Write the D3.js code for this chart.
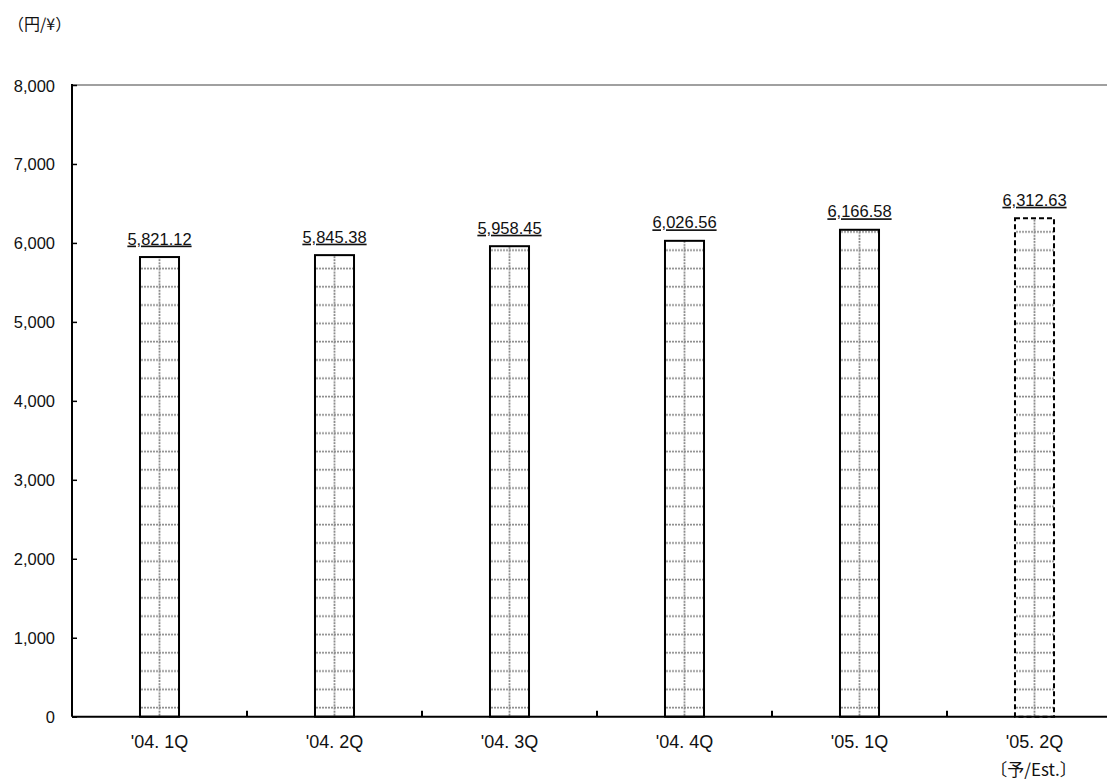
<!DOCTYPE html>
<html>
<head>
<meta charset="utf-8">
<script src="https://cdn.jsdelivr.net/npm/d3@7/dist/d3.min.js"></script>
<style>
  body { margin: 0; background: #fff; }
  text { font-family: "Liberation Sans", "Noto Sans CJK JP", sans-serif; fill: #111; }
  .jp { font-family: "Noto Sans CJK JP", sans-serif; }
</style>
</head>
<body>
<div id="chart"></div>
<script>
// データ
const quarters = ["'04. 1Q", "'04. 2Q", "'04. 3Q", "'04. 4Q", "'05. 1Q", "'05. 2Q"];
const values = [5821.12, 5845.38, 5958.45, 6026.56, 6166.58, 6312.63];
const estimated = [false, false, false, false, false, true];
const yTicks = [0, 1000, 2000, 3000, 4000, 5000, 6000, 7000, 8000];

const width = 1107,
    height = 780;

const plotLeft = 72, plotTop = 85, plotBottom = 716.7;
const step = 175;

const svg = d3.select('#chart')
    .append('svg')
    .attr('width', width)
    .attr('height', height);

const x = d3.scaleBand()
    .domain(quarters)
    .range([plotLeft, plotLeft + step * quarters.length])
    .paddingInner(0.777)
    .paddingOuter(0.3885);

const y = d3.scaleLinear()
    .domain([0, 8000])
    .range([plotBottom, plotTop]);

// 網目パターン
const tileH = 18.3;
const pat = svg.append('defs').append('pattern')
    .attr('id', 'grid')
    .attr('patternUnits', 'userSpaceOnUse')
    .attr('x', plotLeft)
    .attr('y', plotBottom)
    .attr('width', step)
    .attr('height', tileH);
pat.append('rect').attr('width', step).attr('height', tileH).attr('fill', '#fff');
pat.append('line')
    .attr('x1', 0).attr('x2', step)
    .attr('y1', 9.3).attr('y2', 9.3)
    .attr('stroke', '#8c8c8c').attr('stroke-width', 1.8)
    .attr('stroke-dasharray', '2,1');
pat.append('line')
    .attr('x1', step / 2).attr('x2', step / 2)
    .attr('y1', 0).attr('y2', tileH)
    .attr('stroke', '#8c8c8c').attr('stroke-width', 1.8)
    .attr('stroke-dasharray', '2,1.05');

// 上の枠線
svg.append('line')
    .attr('x1', plotLeft).attr('x2', width)
    .attr('y1', plotTop).attr('y2', plotTop)
    .attr('stroke', '#808080').attr('stroke-width', 1.5);

// y軸
const yAxis = svg.append('g')
    .attr('transform', `translate(${plotLeft},0)`)
    .call(d3.axisRight(y).tickValues(yTicks).tickSize(5).tickFormat(''));
yAxis.select('.domain').remove();
yAxis.selectAll('line').attr('stroke', '#000').attr('stroke-width', 1.5);
svg.append('line')
    .attr('x1', plotLeft).attr('x2', plotLeft)
    .attr('y1', plotTop - 1).attr('y2', plotBottom)
    .attr('stroke', '#000').attr('stroke-width', 2);

svg.append('g').selectAll('text')
    .data(yTicks)
    .enter()
    .append('text')
    .attr('x', 55)
    .attr('y', d => y(d) + 6.5)
    .attr('text-anchor', 'end')
    .attr('font-size', 16.5)
    .text(d => d3.format(',')(d));

// 長條
svg.append('g').selectAll('rect')
    .data(values)
    .enter()
    .append('rect')
    .attr('x', (d, i) => x(quarters[i]))
    .attr('y', d => y(d))
    .attr('width', x.bandwidth())
    .attr('height', d => y(0) - y(d))
    .attr('fill', 'url(#grid)')
    .attr('stroke', '#000')
    .attr('stroke-width', 2)
    .attr('stroke-dasharray', (d, i) => estimated[i] ? '5,3' : null);

// 数値ラベル
svg.append('g').selectAll('text')
    .data(values)
    .enter()
    .append('text')
    .attr('x', (d, i) => x(quarters[i]) + x.bandwidth() / 2)
    .attr('y', d => y(d) - 12.5)
    .attr('text-anchor', 'middle')
    .attr('font-size', 16.5)
    .attr('text-decoration', 'underline')
    .text(d => d3.format(',.2f')(d));

// x軸
svg.append('line')
    .attr('x1', plotLeft).attr('x2', width)
    .attr('y1', plotBottom).attr('y2', plotBottom)
    .attr('stroke', '#000').attr('stroke-width', 2);

// 区切りの目盛り
const gap = (x.step() - x.bandwidth()) / 2;
svg.append('g').selectAll('line')
    .data(quarters.slice(1))
    .enter()
    .append('line')
    .attr('x1', d => x(d) - gap)
    .attr('x2', d => x(d) - gap)
    .attr('y1', plotBottom).attr('y2', plotBottom - 6)
    .attr('stroke', '#000').attr('stroke-width', 2);

svg.append('g').selectAll('text')
    .data(quarters)
    .enter()
    .append('text')
    .attr('x', d => x(d) + x.bandwidth() / 2)
    .attr('y', 748)
    .attr('text-anchor', 'middle')
    .attr('font-size', 18)
    .text(d => d);

svg.append('text')
    .attr('class', 'jp')
    .attr('x', x(quarters[5]) + x.bandwidth() / 2 - 1)
    .attr('y', 776)
    .attr('text-anchor', 'middle')
    .attr('font-size', 17)
    .text('〔予/Est.〕');

// 単位
svg.append('text')
    .attr('class', 'jp')
    .attr('x', 8)
    .attr('y', 30)
    .attr('font-size', 16)
    .text('（円/¥）');
</script>
</body>
</html>
